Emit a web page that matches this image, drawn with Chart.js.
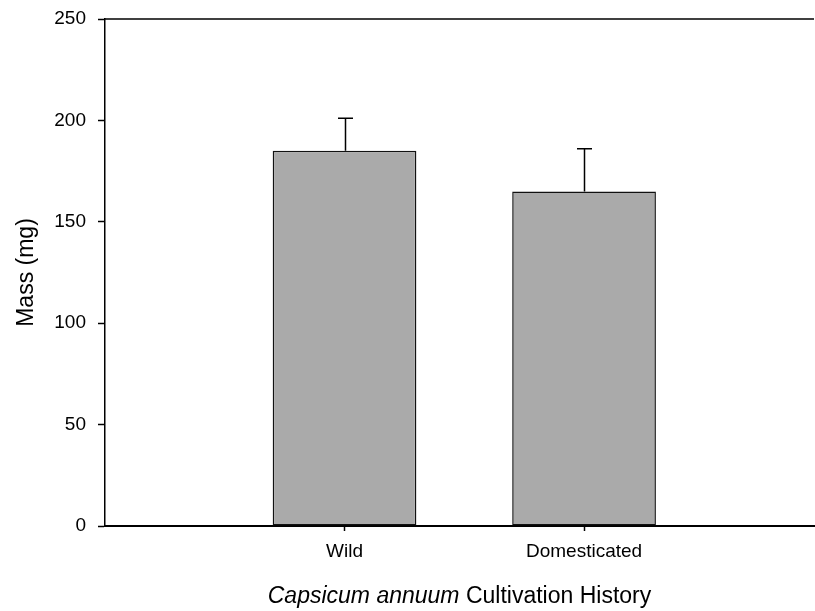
<!DOCTYPE html>
<html>
<head>
<meta charset="utf-8">
<script src="https://cdn.jsdelivr.net/npm/chart.js@4.4.1/dist/chart.umd.min.js"></script>
<style>
	html, body { margin: 0; padding: 0; background: #fff; }
	#wrap { width: 815px; height: 611px; }
</style>
</head>
<body>
<div id="wrap"><canvas id="myChart" width="815" height="611"></canvas></div>
<script>
	// data
	const categories = ['Wild', 'Domesticated'];
	const means = [185, 165];
	const errUp = [16, 21];
	const yTicks = [0, 50, 100, 150, 200, 250];

	const FONT = 'Arial, "Liberation Sans", sans-serif';

	let points = categories.map((c, i) => ({ x: i + 1, y: means[i] }));

	// top frame line (no right one, like the original)
	const topLine = {
		id: 'topLine',
		afterDraw(chart) {
			let ctx = chart.ctx, a = chart.chartArea;
			ctx.save();
			ctx.strokeStyle = '#000';
			ctx.lineWidth = 1.5;
			ctx.beginPath();
			ctx.moveTo(a.left, a.top);
			ctx.lineTo(a.right, a.top);
			ctx.stroke();
			ctx.restore();
		}
	};

	const errorBars = {
		id: 'errorBars',
		afterDatasetsDraw(chart) {
			let ctx = chart.ctx;
			let x = chart.scales.x, y = chart.scales.y;
			ctx.save();
			ctx.strokeStyle = '#000';
			ctx.lineWidth = 1.5;
			means.forEach((m, i) => {
				let px = Math.round(x.getPixelForValue(i + 1)) + 0.5;
				let y0 = y.getPixelForValue(m);
				let y1 = y.getPixelForValue(m + errUp[i]);
				ctx.beginPath();
				ctx.moveTo(px, y0);
				ctx.lineTo(px, y1);
				ctx.moveTo(px - 7.5, y1);
				ctx.lineTo(px + 7.5, y1);
				ctx.stroke();
			});
			ctx.restore();
		}
	};

	// axis titles, the x one has an italic part
	const axisTitles = {
		id: 'axisTitles',
		afterDraw(chart) {
			let ctx = chart.ctx, a = chart.chartArea;
			let cx = (a.left + a.right) / 2;
			let cy = (a.top + a.bottom) / 2;
			ctx.save();
			ctx.fillStyle = '#000';
			ctx.textBaseline = 'alphabetic';
			ctx.textAlign = 'left';
			let part1 = 'Capsicum annuum';
			let part2 = ' Cultivation History';
			ctx.font = 'italic 23px ' + FONT;
			let w1 = ctx.measureText(part1).width;
			ctx.font = '23px ' + FONT;
			let w2 = ctx.measureText(part2).width;
			let startX = cx - (w1 + w2) / 2;
			ctx.font = 'italic 23px ' + FONT;
			ctx.fillText(part1, startX, 603);
			ctx.font = '23px ' + FONT;
			ctx.fillText(part2, startX + w1, 603);

			ctx.translate(33, cy);
			ctx.rotate(-Math.PI / 2);
			ctx.textAlign = 'center';
			ctx.fillText('Mass (mg)', 0, 0);
			ctx.restore();
		}
	};

	new Chart(document.getElementById('myChart').getContext('2d'), {
		type: 'bar',
		data: {
			datasets: [{
				data: points,
				backgroundColor: '#aaaaaa',
				borderColor: '#111',
				borderWidth: 1.5,
				borderSkipped: false,
				barPercentage: 0.6,
				categoryPercentage: 1
			}]
		},
		options: {
			responsive: false,
			animation: false,
			events: [],
			layout: { padding: { top: 19, right: 1, left: 0, bottom: 0 } },
			plugins: {
				legend: { display: false },
				tooltip: { enabled: false }
			},
			scales: {
				x: {
					type: 'linear',
					min: 0,
					max: 2.96,
					offset: false,
					afterBuildTicks: (scale) => {
						scale.ticks = categories.map((c, i) => ({ value: i + 1 }));
					},
					afterFit: (scale) => {
						scale.height = 85;
						scale.paddingLeft = 0;
						scale.paddingRight = 0;
					},
					ticks: {
						color: '#000',
						font: { family: FONT, size: 19 },
						padding: 9,
						maxRotation: 0,
						autoSkip: false,
						callback: (v) => categories[v - 1]
					},
					grid: { offset: false, drawOnChartArea: false, tickLength: 5, tickColor: '#000', tickWidth: 1.5 },
					border: { color: '#000', width: 2 }
				},
				y: {
					min: 0,
					max: 250,
					afterBuildTicks: (scale) => {
						scale.ticks = yTicks.map(v => ({ value: v }));
					},
					afterFit: (scale) => {
						scale.width = 105;
						scale.paddingTop = 0;
						scale.paddingBottom = 0;
					},
					ticks: {
						color: '#000',
						font: { family: FONT, size: 19 },
						padding: 12
					},
					grid: { drawOnChartArea: false, tickLength: 7, tickColor: '#000', tickWidth: 1.5 },
					border: { color: '#000', width: 1.5 }
				}
			}
		},
		plugins: [topLine, errorBars, axisTitles]
	});
</script>
</body>
</html>
